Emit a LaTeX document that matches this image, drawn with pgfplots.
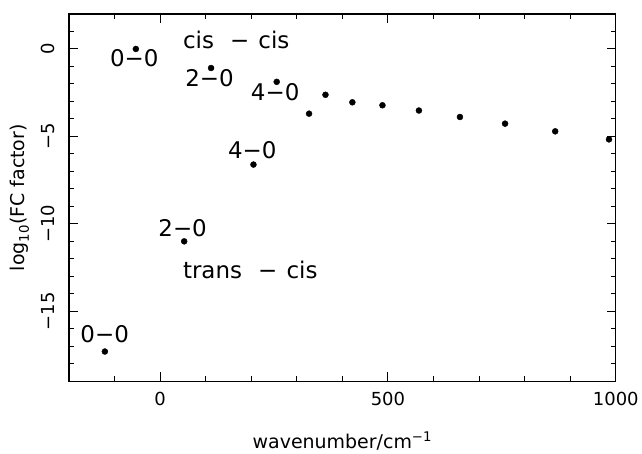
\documentclass[border=0pt]{standalone}
\usepackage{fontspec}
\setmainfont{DejaVu Sans}
\usepackage{pgfplots}
\pgfplotsset{compat=1.18}
\tikzset{ann/.style={anchor=base west, inner sep=0pt, font=\fontsize{23}{26}\selectfont}}
\begin{document}
\begin{tikzpicture}
\begin{axis}[
  scale only axis, width=548pt, height=368pt,
  xmin=-200, xmax=1000, ymin=-19, ymax=2,
  xtick={0,500,1000}, xticklabels={0,500,1000},
  minor xtick={-100,100,200,300,400,600,700,800,900},
  ytick={-15,-10,-5,0}, yticklabels={−15,−10,−5,0},
  minor ytick={-18,-17,-16,-14,-13,-12,-11,-9,-8,-7,-6,-4,-3,-2,-1,1},
  tick align=inside, major tick length=9pt, minor tick length=5pt,
  axis line style={line width=1.3pt},
  every tick/.style={black, line width=1pt},
  tick label style={font=\fontsize{18}{20}\selectfont},
  xticklabel style={anchor=north, yshift=-7pt},
  yticklabel style={rotate=90, anchor=south},
  yticklabel shift=11pt,
  xlabel={wavenumber/cm\textsuperscript{−1}},
  ylabel={log\textsubscript{10}(FC factor)},
  label style={font=\fontsize{19}{22}\selectfont},
  xlabel style={at={(axis description cs:0.5,-0.182)}, anchor=base},
  ylabel style={at={(axis description cs:-0.0803,0.5)}, anchor=base},
  clip=false,
]
\addplot[only marks, mark=*, mark size=3pt, black] table {
x y
-53 0
112 -1.09
256 -1.88
327 -3.70
363 -2.62
422 -3.05
488 -3.22
568 -3.52
658 -3.89
757 -4.27
867 -4.71
985 -5.17
};
\addplot[only marks, mark=*, mark size=3pt, black] table {
x y
205 -6.61
53 -11.0
-121 -17.3
};
\node[ann] at (axis cs:50,0) {cis\hspace{0.7em}−\hspace{0.4em}cis};
\node[ann] at (axis cs:-110,-1.03) {0−0};
\node[ann] at (axis cs:55,-2.17) {2−0};
\node[ann] at (axis cs:199,-2.93) {4−0};
\node[ann] at (axis cs:149,-6.26) {4−0};
\node[ann] at (axis cs:-4,-10.7) {2−0};
\node[ann] at (axis cs:50,-13.1) {trans\hspace{0.7em}−\hspace{0.4em}cis};
\node[ann] at (axis cs:-175,-16.8) {0−0};
\end{axis}
\path (current axis.south west) ++(-69pt,-67pt) coordinate (bbA);
\path (current axis.north east) ++(25pt,14pt) coordinate (bbB);
\path (bbA) rectangle (bbB);
\end{tikzpicture}
\end{document}
